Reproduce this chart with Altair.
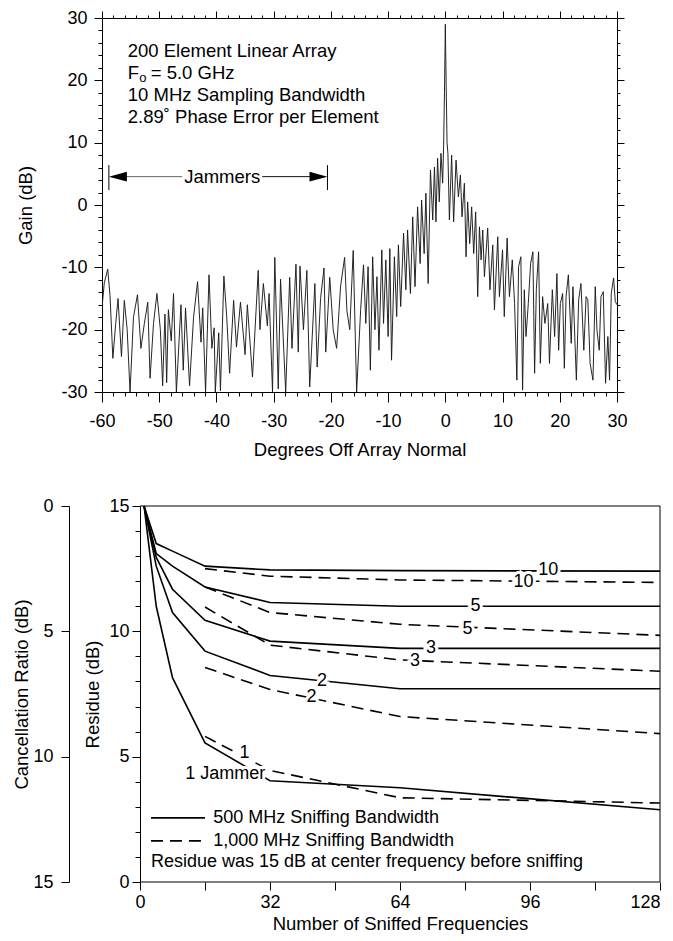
import altair as alt
import pandas as pd

FONT = "Liberation Sans"

# ---------------- top chart: antenna pattern ----------------
angle_deg = [
    -60.0, -59.6, -59.0, -58.6, -58.1, -57.6, -57.2, -56.6, -56.1, -55.6,
    -55.1, -54.5, -53.8, -53.2, -52.6, -52.0, -51.6, -51.0, -50.4, -49.8,
    -49.4, -49.0, -48.7, -48.4, -47.9, -47.5, -47.0, -46.2, -45.8, -45.4,
    -44.7, -44.0, -43.3, -42.7, -42.4, -41.9, -41.3, -40.8, -40.4, -40.2,
    -39.6, -39.3, -38.7, -38.2, -37.7, -37.0, -36.5, -35.8, -35.0, -34.6,
    -33.7, -32.7, -32.4, -31.8, -31.1, -30.8, -30.2, -29.8, -29.2, -28.8,
    -27.9, -27.2, -26.8, -26.1, -25.7, -25.4, -24.8, -24.2, -23.7, -22.8,
    -22.4, -21.8, -21.2, -20.9, -20.2, -19.6, -19.0, -18.3, -17.6, -17.2,
    -16.7, -16.1, -15.5, -14.8, -14.3, -13.9, -13.5, -13.1, -12.7, -12.3,
    -11.95, -11.6, -11.1, -10.8, -10.4, -10.0, -9.7, -9.4, -8.9, -8.5,
    -8.2, -7.8, -7.3, -6.9, -6.6, -6.1, -5.7, -5.3, -4.85, -4.4,
    -4.15, -3.7, -3.4, -3.0, -2.6, -2.2, -1.9, -1.64, -1.35, -1.06,
    -0.76, -0.47, -0.3, -0.15, 0.0, 0.15, 0.3, 0.45, 0.71, 1.1,
    1.45, 1.87, 2.28, 2.63, 2.92, 3.33, 3.62, 3.9, 4.26, 4.6,
    4.96, 5.3, 5.66, 5.96, 6.25, 6.54, 6.83, 7.4, 7.8, 8.29,
    8.58, 9.16, 9.45, 10.0, 10.3, 10.8, 11.2, 11.7, 12.1, 12.5,
    12.8, 13.2, 13.5, 13.8, 14.1, 14.5, 14.9, 15.3, 15.6, 15.9,
    16.3, 16.6, 17.0, 17.4, 17.9, 18.2, 18.7, 19.1, 19.5, 19.8,
    20.1, 20.5, 20.8, 21.1, 21.5, 22.0, 22.3, 22.9, 23.3, 23.7,
    24.2, 24.6, 24.9, 25.3, 25.8, 26.2, 26.5, 26.9, 27.2, 27.6,
    28.0, 28.4, 28.7, 29.0, 29.4, 29.7, 30.0,
]
gain_db = [
    -16.5, -12.5, -10.3, -14.5, -24.6, -19.0, -15.0, -24.3, -15.3, -20.0,
    -30.0, -18.0, -14.4, -23.0, -19.0, -15.6, -27.8, -19.0, -14.2, -20.0,
    -29.0, -17.5, -28.5, -16.8, -21.8, -14.2, -30.0, -16.0, -26.5, -16.5,
    -29.0, -18.0, -12.3, -22.0, -16.5, -30.0, -11.2, -23.0, -19.7, -30.0,
    -20.5, -29.8, -11.4, -18.0, -27.0, -15.3, -22.8, -15.6, -24.0, -16.0,
    -27.6, -10.5, -20.0, -12.6, -19.4, -14.2, -30.0, -8.4, -29.5, -11.9,
    -30.0, -11.6, -23.0, -9.5, -23.6, -9.8, -20.0, -10.5, -29.2, -12.6,
    -26.0, -15.0, -10.1, -23.6, -11.6, -20.0, -23.0, -13.0, -8.4, -17.0,
    -20.0, -7.3, -30.0, -16.8, -9.6, -19.0, -9.9, -26.5, -8.3, -20.0,
    -11.5, -23.3, -7.2, -19.0, -8.8, -21.1, -7.0, -24.9, -8.3, -17.9,
    -6.4, -16.3, -4.5, -13.6, -4.0, -14.2, -1.9, -13.1, -0.3, -9.4,
    0.8, -7.8, 1.9, -12.6, 5.6, -2.4, 6.1, -2.7, 7.5, 0.5,
    8.3, 3.5, 9.5, 18.0, 29.0, 19.0, 10.0, 8.3, -2.4, 8.0,
    -2.7, 7.2, 1.3, 4.8, -1.9, 3.5, -8.3, 0.5, -6.2, -0.3,
    -7.8, -1.1, -14.7, -3.5, -8.8, -4.0, -11.5, -3.7, -13.6, -6.4,
    -16.8, -5.1, -14.7, -7.2, -17.9, -5.3, -14.7, -8.8, -15.8, -28.1,
    -9.9, -8.3, -29.7, -13.6, -21.1, -15.8, -9.4, -7.5, -27.0, -13.6,
    -7.5, -25.4, -14.7, -19.0, -15.8, -25.4, -13.6, -21.1, -11.0, -23.3,
    -15.8, -14.2, -26.2, -14.7, -11.2, -22.2, -13.1, -28.1, -15.2, -12.6,
    -23.3, -14.7, -15.2, -25.4, -28.1, -13.1, -20.1, -23.3, -14.7, -13.9,
    -28.6, -21.1, -28.1, -14.2, -11.7, -15.5, -16.0,
]

info_lines = ["200 Element Linear Array", "F", "10 MHz Sampling Bandwidth",
              "2.89\u02da Phase Error per Element"]
info_y = [24.75, 21.2, 17.65, 14.1]
info_x = -55.5
fo_rest = "= 5.0 GHz"

jam_label = "Jammers"
jam_left, jam_right = -58.8, -20.6
jam_y, jam_bar_lo, jam_bar_hi = 4.55, 2.4, 6.4
jam_text_x = -39.0

# ---------------- bottom chart: residue vs sniffed frequencies ----------------
sniff_n = [1, 4, 8, 16, 32, 64, 128]
res500_j10 = [15.0, 13.5, 13.2, 12.6, 12.45, 12.42, 12.4]
res500_j5 = [15.0, 13.1, 12.6, 11.77, 11.15, 11.0, 11.0]
res500_j3 = [15.0, 12.95, 11.68, 10.44, 9.61, 9.32, 9.32]
res500_j2 = [15.0, 12.6, 10.75, 9.21, 8.24, 7.71, 7.71]
res500_j1 = [15.0, 11.0, 8.15, 5.55, 4.04, 3.76, 2.88]

sniff_n_wide = [16, 32, 64, 128]
res1000_j10 = [12.5, 12.2, 12.05, 11.95]
res1000_j5 = [11.77, 10.75, 10.28, 9.84]
res1000_j3 = [10.97, 9.45, 8.86, 8.41]
res1000_j2 = [8.56, 7.68, 6.6, 5.92]
res1000_j1 = [5.81, 4.45, 3.36, 3.15]

curve_labels = ["10", "10", "5", "5", "3", "3", "2", "2", "1", "1 Jammer"]
curve_label_n = [100.5, 94.4, 82.6, 80.6, 71.6, 67.7, 44.8, 42.2, 25.7, 21.0]
curve_label_r = [12.45, 11.97, 11.0, 10.08, 9.32, 8.83, 8.02, 7.37, 5.15, 4.3]

legend_texts = ["500 MHz Sniffing Bandwidth", "1,000 MHz Sniffing Bandwidth",
                "Residue was 15 dB at center frequency before sniffing"]
legend_text_n = [18.0, 18.0, 2.7]
legend_r = [2.56, 1.64, 0.8]
legend_line_n = [2.7, 16.0]

LBL = 18      # tick label size
TTL = 18.5    # axis title size
ANN = 18.5    # annotation size
SHIFT = 38    # bottom plot starts this many px right of the top plot

# ====================== build top chart ======================
df_top = pd.DataFrame({"angle": angle_deg, "gain": gain_db})
xs = alt.Scale(domain=[-60, 30], nice=False, zero=False)
ys = alt.Scale(domain=[-30, 30], nice=False, zero=False)


def cond(mod, big, small):
    return {"condition": {"test": f"datum.value % {mod} === 0", "value": big}, "value": small}


def lab_expr(mod):
    return f"datum.value % {mod} === 0 ? replace(datum.label, '\u2212', '-') : ''"


xticks = list(range(-60, 31, 2))
yticks = list(range(-30, 31, 2))
x_bottom = alt.Axis(orient="bottom", values=xticks, tickSize=cond(10, 10, 4),
                    labelExpr=lab_expr(10), labelOverlap=False, labelFlush=False,
                    labelPadding=10, title="Degrees Off Array Normal", titlePadding=10)
y_left = alt.Axis(orient="left", values=yticks, tickSize=cond(10, 8, 4),
                  labelExpr=lab_expr(10), labelOverlap=False, labelFlush=False, labelPadding=7,
                  title="Gain (dB)", titlePadding=25)
x_top = alt.Axis(orient="top", values=xticks, tickSize=cond(10, 7, 3), labels=False, title=None)
y_right = alt.Axis(orient="right", values=yticks, tickSize=cond(10, 7, 3), labels=False, title=None)

line_top = alt.Chart(df_top).mark_line(color="#1a1a1a", strokeWidth=0.95, clip=True).encode(
    x=alt.X("angle:Q", scale=xs, axis=x_bottom),
    y=alt.Y("gain:Q", scale=ys, axis=y_left),
)
mirror_top = alt.Chart(df_top).mark_point(opacity=0).encode(
    x=alt.X("angle:Q", scale=xs, axis=x_top),
    y=alt.Y("gain:Q", scale=ys, axis=y_right),
)


def txt(df, size=ANN, align="left", dx=0, dy=0):
    return alt.Chart(df).mark_text(font=FONT, fontSize=size, align=align, baseline="middle",
                                   color="black", dx=dx, dy=dy).encode(
        x=alt.X("x:Q", scale=xs, axis=None),
        y=alt.Y("y:Q", scale=ys, axis=None),
        text="t:N",
    )


info = txt(pd.DataFrame({"x": [info_x] * 4, "y": info_y, "t": info_lines}))
fo_sub = txt(pd.DataFrame({"x": [info_x], "y": [info_y[1]], "t": ["o"]}), size=13, dx=11.5, dy=5)
fo_eq = txt(pd.DataFrame({"x": [info_x], "y": [info_y[1]], "t": [fo_rest]}), dx=23)
jam_txt = txt(pd.DataFrame({"x": [jam_text_x], "y": [jam_y], "t": [jam_label]}), align="center")

bars = alt.Chart(pd.DataFrame({"x": [jam_left, jam_right], "a": [jam_bar_lo] * 2,
                               "b": [jam_bar_hi] * 2})).mark_rule(color="black", strokeWidth=1).encode(
    x=alt.X("x:Q", scale=xs, axis=None), y=alt.Y("a:Q", scale=ys, axis=None), y2="b:Q")

arrow_lines = alt.Chart(pd.DataFrame({
    "x": [jam_left + 2.5, jam_text_x + 7.0], "x2": [jam_text_x - 7.0, jam_right - 3.0],
    "y": [jam_y, jam_y], "c": ["#666666", "#111111"]})).mark_rule(strokeWidth=1).encode(
    x=alt.X("x:Q", scale=xs, axis=None), x2="x2:Q", y=alt.Y("y:Q", scale=ys, axis=None),
    color=alt.Color("c:N", scale=None))

head_l = alt.Chart(pd.DataFrame({"x": [jam_left + 1.57], "y": [jam_y]})).mark_point(
    shape="M-1,0L1,-0.55L1,0.55Z", filled=True, size=324, color="black", opacity=1, strokeWidth=0).encode(
    x=alt.X("x:Q", scale=xs, axis=None), y=alt.Y("y:Q", scale=ys, axis=None))
head_r = alt.Chart(pd.DataFrame({"x": [jam_right - 1.57], "y": [jam_y]})).mark_point(
    shape="M1,0L-1,-0.55L-1,0.55Z", filled=True, size=324, color="black", opacity=1, strokeWidth=0).encode(
    x=alt.X("x:Q", scale=xs, axis=None), y=alt.Y("y:Q", scale=ys, axis=None))

top = alt.layer(line_top, mirror_top, info, fo_sub, fo_eq, jam_txt, bars, arrow_lines,
                head_l, head_r).resolve_axis(x="independent", y="independent").properties(
    width=515, height=374)

# ====================== build bottom chart ======================
rows = []
for name, vals in [("10", res500_j10), ("5", res500_j5), ("3", res500_j3),
                   ("2", res500_j2), ("1", res500_j1)]:
    for n, r in zip(sniff_n, vals):
        rows.append({"N": n, "R": r, "series": name})
df_solid = pd.DataFrame(rows)
rows = []
for name, vals in [("10", res1000_j10), ("5", res1000_j5), ("3", res1000_j3),
                   ("2", res1000_j2), ("1", res1000_j1)]:
    for n, r in zip(sniff_n_wide, vals):
        rows.append({"N": n, "R": r, "series": name})
df_dash = pd.DataFrame(rows)

BW = 520
xbs = alt.Scale(domain=[0, 128], range=[SHIFT, SHIFT + BW], nice=False, zero=False)
ybs = alt.Scale(domain=[0, 15], nice=False, zero=False)
xb_axis = alt.Axis(orient="bottom", values=list(range(0, 129, 16)), tickSize=8, domain=False,
                   labelExpr=lab_expr(32), labelOverlap=False, labelFlush=False,
                   labelAlign={"condition": {"test": "datum.value === 128", "value": "right"},
                               "value": "center"},
                   labelPadding=3, title="Number of Sniffed Frequencies", titlePadding=3,
                   titleX=SHIFT + BW / 2)
yb_axis = alt.Axis(orient="left", values=list(range(0, 16)), tickSize=cond(5, 8, 5), offset=-SHIFT,
                   labelExpr=lab_expr(5), labelOverlap=False, labelFlush=False, labelPadding=3,
                   title="Residue (dB)", titlePadding=6)
cancel_axis = alt.Axis(orient="left", values=[0, 5, 10, 15], tickSize=8, offset=33,
                       labelPadding=8, labelFlush=False, title="Cancellation Ratio (dB)",
                       titlePadding=1)

XB = alt.X("N:Q", scale=xbs, axis=xb_axis)
YB = alt.Y("R:Q", scale=ybs, axis=yb_axis)

solid = alt.Chart(df_solid).mark_line(color="black", strokeWidth=1.6).encode(
    x=XB, y=YB, detail="series:N")
dashed = alt.Chart(df_dash).mark_line(color="black", strokeWidth=1.6, strokeDash=[12, 7]).encode(
    x=XB, y=YB, detail="series:N")

frame = alt.Chart(pd.DataFrame({"N": [0, 128, 0], "N2": [128, 128, 128],
                                "R": [15, 0, 0], "R2": [15, 15, 0]})).mark_rule(
    color="black", strokeWidth=1).encode(x=XB, x2="N2:Q", y=YB, y2="R2:Q")

df_lab = pd.DataFrame({"N": curve_label_n, "R": curve_label_r, "t": curve_labels})
halo = alt.Chart(df_lab).mark_text(font=FONT, fontSize=LBL, color="white", stroke="white",
                                   strokeWidth=6, baseline="middle").encode(x=XB, y=YB, text="t:N")
labs = alt.Chart(df_lab).mark_text(font=FONT, fontSize=LBL, color="black",
                                   baseline="middle").encode(x=XB, y=YB, text="t:N")

leg_lines = alt.Chart(pd.DataFrame({"N": [legend_line_n[0]] * 2, "N2": [legend_line_n[1]] * 2,
                                    "R": legend_r[:2], "k": ["s", "d"]})).mark_rule(
    color="black", strokeWidth=1.6).encode(
    x=XB, x2="N2:Q", y=YB,
    strokeDash=alt.StrokeDash("k:N", scale=alt.Scale(domain=["s", "d"], range=[[1, 0], [12, 7]]),
                              legend=None))
leg_txt = alt.Chart(pd.DataFrame({"N": legend_text_n, "R": legend_r, "t": legend_texts})).mark_text(
    font=FONT, fontSize=LBL, color="black", align="left", baseline="middle").encode(
    x=XB, y=YB, text="t:N")

inner = alt.layer(frame, solid, dashed, halo, labs, leg_lines, leg_txt)
cancel = alt.Chart(pd.DataFrame({"c": [0, 15]})).mark_point(opacity=0).encode(
    y=alt.Y("c:Q", scale=alt.Scale(domain=[0, 15], reverse=True, nice=False, zero=False),
            axis=cancel_axis))
bottom = alt.layer(inner, cancel).resolve_scale(y="independent").properties(
    width=SHIFT + BW, height=376)

chart = alt.vconcat(top, bottom, spacing=38).properties(
    padding={"left": 4, "top": 1, "right": 0, "bottom": 2}
).configure_view(strokeWidth=0).configure_axis(
    labelFont=FONT, titleFont=FONT, labelFontSize=LBL, titleFontSize=TTL,
    titleFontWeight="normal", labelColor="black", titleColor="black", domainColor="black",
    tickColor="black", grid=False, domainWidth=1, tickWidth=1)

chart.save("out.html", embed_options={"renderer": "svg", "actions": False})
